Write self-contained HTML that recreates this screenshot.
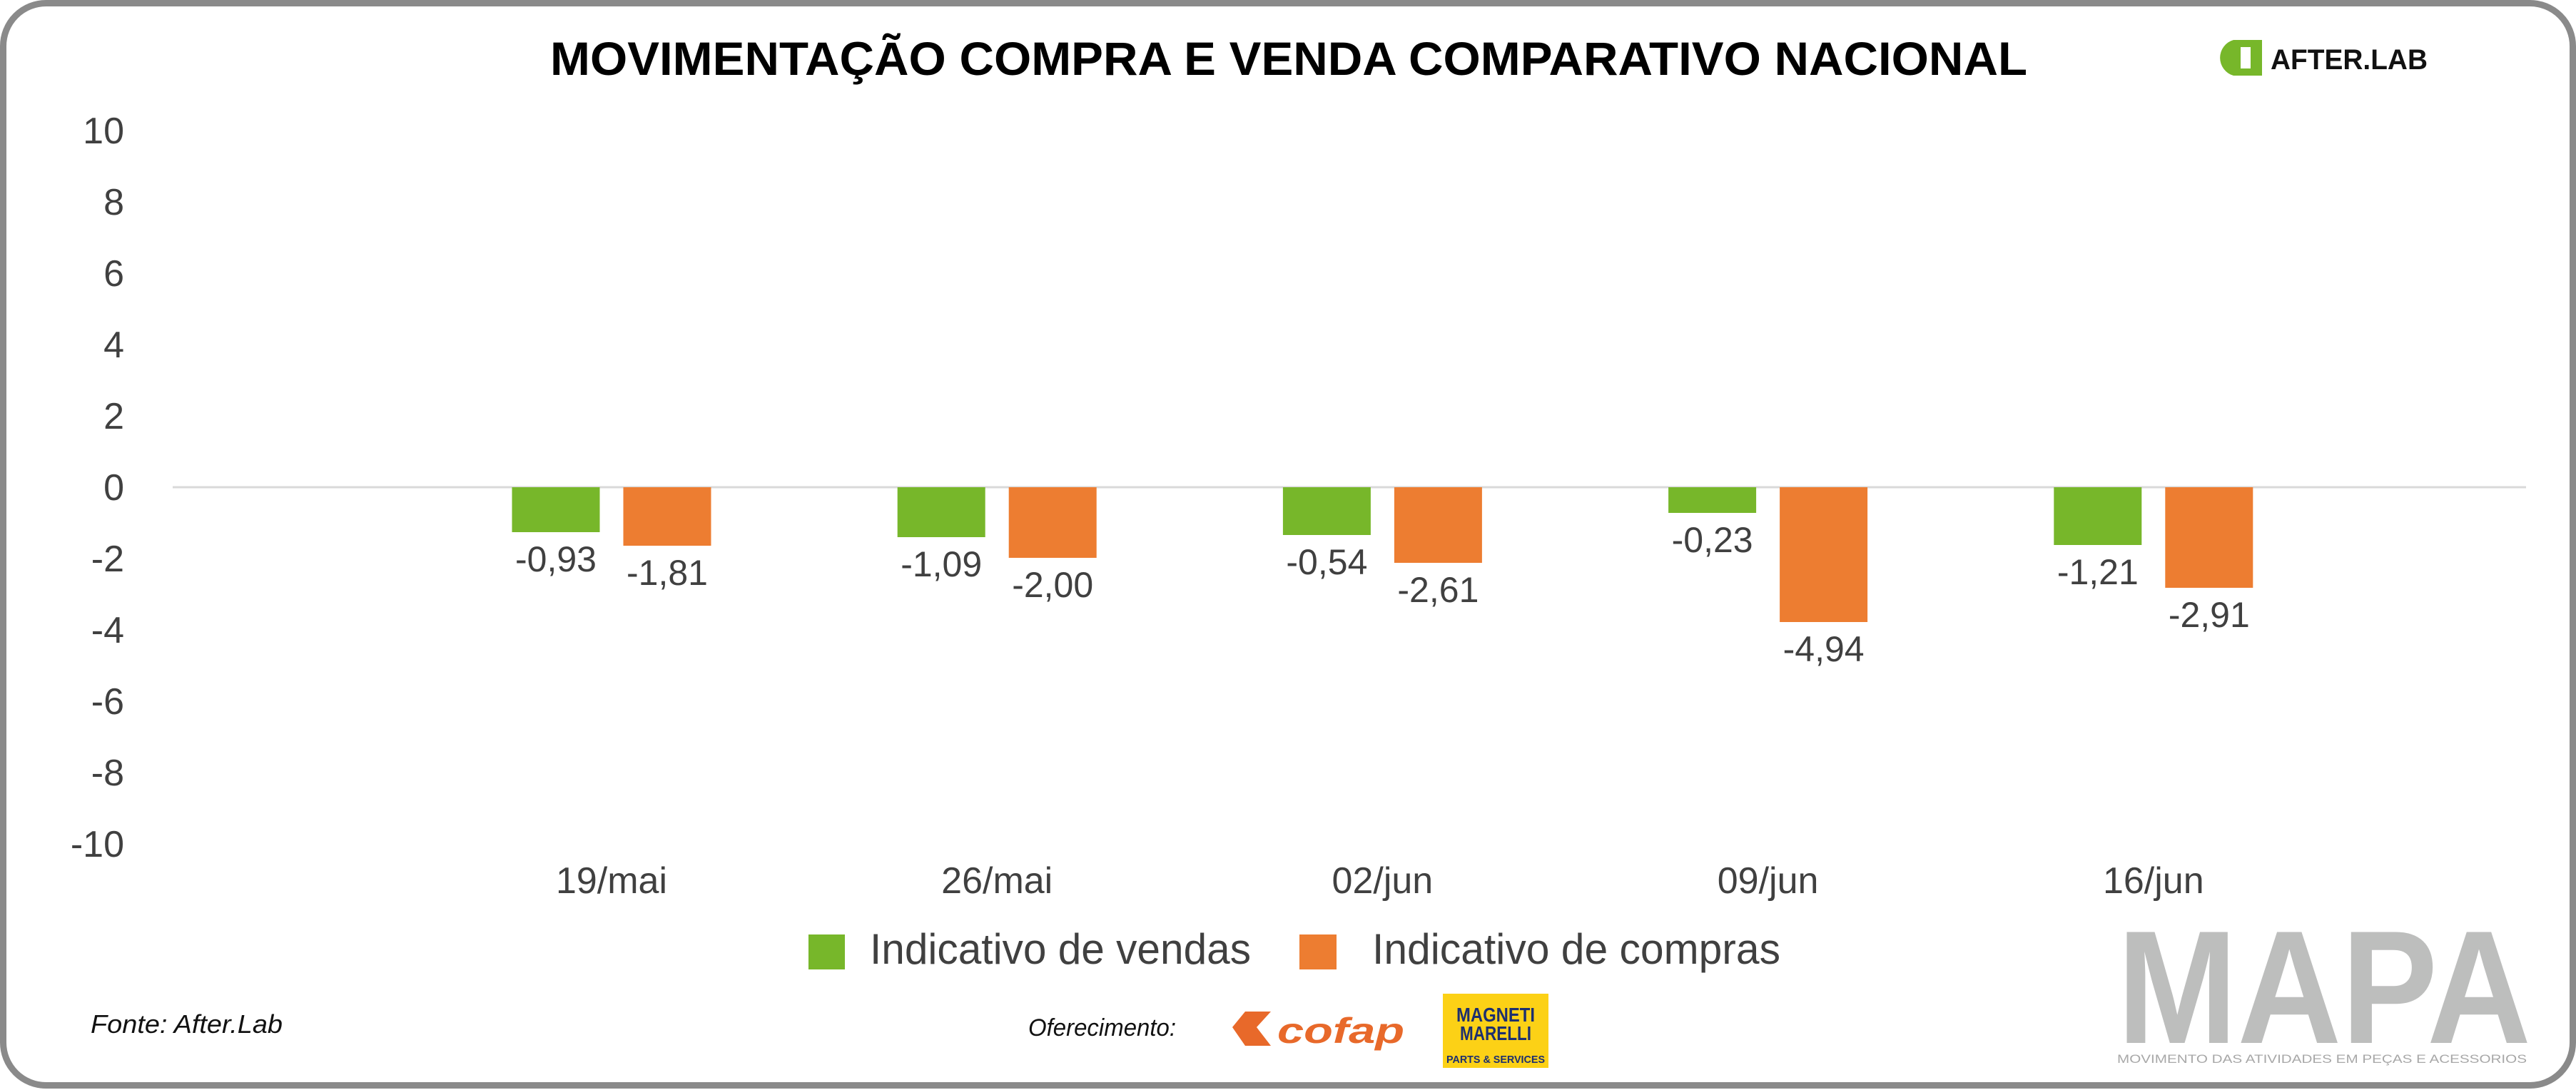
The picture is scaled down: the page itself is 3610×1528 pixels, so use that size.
<!DOCTYPE html>
<html><head><meta charset="utf-8"><style>
html,body{margin:0;padding:0;background:#fff;}
svg{display:block;}
text{font-family:"Liberation Sans Narrow","Liberation Sans",sans-serif;fill:#404040;}
</style></head><body>
<svg id="chart" width="3610" height="1528" viewBox="0 0 3610 1528" xmlns="http://www.w3.org/2000/svg">
<rect x="4.5" y="4.5" width="3601" height="1517" rx="60" ry="60" fill="#fff" stroke="#8a8a8a" stroke-width="9"/>
<text x="1806" y="105" font-size="66" font-weight="bold" text-anchor="middle" textLength="2070" lengthAdjust="spacingAndGlyphs" style="fill:#000">MOVIMENTAÇÃO COMPRA E VENDA COMPARATIVO NACIONAL</text>
<g>
<path d="M3130 56 h40 v50 h-40 a26 26 0 0 1 0 -50z" fill="#77b72a"/>
<rect x="3140" y="66" width="14" height="30" fill="#fff"/>
<text x="3182" y="97" font-size="40" font-weight="bold" textLength="220" lengthAdjust="spacingAndGlyphs" style="fill:#111">AFTER.LAB</text>
</g>
<g id="yaxis"></g>
<line x1="242" x2="3540" y1="683" y2="683" stroke="#d9d9d9" stroke-width="3" id="zeroline"/>
<g id="bars"></g>
<g id="xaxis"></g>
<g>
<rect x="1133" y="1310" width="51" height="49" fill="#77b72a"/>
<text x="1219" y="1351" font-size="60" textLength="534" lengthAdjust="spacingAndGlyphs">Indicativo de vendas</text>
<rect x="1821" y="1310" width="52" height="49" fill="#ed7d31"/>
<text x="1923" y="1351" font-size="60" textLength="572" lengthAdjust="spacingAndGlyphs">Indicativo de compras</text>
</g>
<text x="127" y="1448" font-size="36" font-style="italic" textLength="269" lengthAdjust="spacingAndGlyphs" style="fill:#111">Fonte: After.Lab</text>
<text x="1441" y="1452" font-size="34" font-style="italic" textLength="207" lengthAdjust="spacingAndGlyphs" style="fill:#111">Oferecimento:</text>
<g>
<path d="M1727 1440 l18 -22 h36 l-20 22 l20 26 h-36z" fill="#e8692a"/>
<text x="1790" y="1462" font-size="50" font-weight="bold" font-style="italic" textLength="178" lengthAdjust="spacingAndGlyphs" style="fill:#e8692a">cofap</text>
</g>
<g>
<rect x="2022" y="1393" width="148" height="104" fill="#fcd116"/>
<text x="2096" y="1432" font-size="28" font-weight="bold" text-anchor="middle" textLength="110" lengthAdjust="spacingAndGlyphs" style="fill:#1d2f6f">MAGNETI</text>
<text x="2096" y="1458" font-size="28" font-weight="bold" text-anchor="middle" textLength="100" lengthAdjust="spacingAndGlyphs" style="fill:#1d2f6f">MARELLI</text>
<text x="2096" y="1490" font-size="15" font-weight="bold" text-anchor="middle" textLength="138" lengthAdjust="spacingAndGlyphs" style="fill:#1d2f6f">PARTS &amp; SERVICES</text>
</g>
<g>
<text x="2967" y="1462" font-size="226" font-weight="bold" textLength="580" lengthAdjust="spacingAndGlyphs" style="fill:#bdbebd;font-family:'Liberation Sans',sans-serif">MAPA</text>
<text x="2967" y="1490" font-size="17" textLength="574" lengthAdjust="spacingAndGlyphs" style="fill:#a8a8a8;font-family:'Liberation Sans',sans-serif">MOVIMENTO DAS ATIVIDADES EM PEÇAS E ACESSORIOS</text>
</g>
</svg>
<script>
const categories = ["19/mai","26/mai","02/jun","09/jun","16/jun"];
const vendasValues = [-1.26,-1.40,-1.34,-0.72,-1.62];
const comprasValues = [-1.64,-1.98,-2.12,-3.78,-2.82];
const vendasLabels = ["-0,93","-1,09","-0,54","-0,23","-1,21"];
const comprasLabels = ["-1,81","-2,00","-2,61","-4,94","-2,91"];
const yTicks = [10,8,6,4,2,0,-2,-4,-6,-8,-10];

const NS = "http://www.w3.org/2000/svg";
function y(v){ return 683 - v * 50; }
function xc(i){ return 857 + i * 540.2; }
const BW = 123, GAP = 33;
function mk(tag, attrs, parent, txt){
  const e = document.createElementNS(NS, tag);
  for (const k in attrs) e.setAttribute(k, attrs[k]);
  if (txt !== undefined) e.textContent = txt;
  parent.appendChild(e);
  return e;
}
const yaxis = document.getElementById("yaxis");
yTicks.forEach(t => {
  const e = mk("text", {x:174, y:y(t)+18, "font-size":52, "text-anchor":"end", style:"font-family:'Liberation Sans',sans-serif"}, yaxis, String(t));
  
  
});
const bars = document.getElementById("bars");
const xaxis = document.getElementById("xaxis");
categories.forEach((c, i) => {
  const cx = xc(i);
  const gx = cx - GAP/2 - BW, ox = cx + GAP/2;
  const gv = vendasValues[i], ov = comprasValues[i];
  const g = mk("rect", {x:gx, y:Math.min(y(0),y(gv)), width:BW, height:Math.abs(y(gv)-y(0)), fill:"#77b72a"}, bars);
  
  
  const o = mk("rect", {x:ox, y:Math.min(y(0),y(ov)), width:BW, height:Math.abs(y(ov)-y(0)), fill:"#ed7d31"}, bars);
  
  
  const gl = mk("text", {x:gx+BW/2, y:y(gv)+55, "font-size":50, "text-anchor":"middle"}, bars, vendasLabels[i]);
  
  
  const ol = mk("text", {x:ox+BW/2, y:y(ov)+55, "font-size":50, "text-anchor":"middle"}, bars, comprasLabels[i]);
  
  
  const xl = mk("text", {x:cx, y:1252, "font-size":52, "text-anchor":"middle"}, xaxis, c);
  
  
});
</script>
</body></html>
